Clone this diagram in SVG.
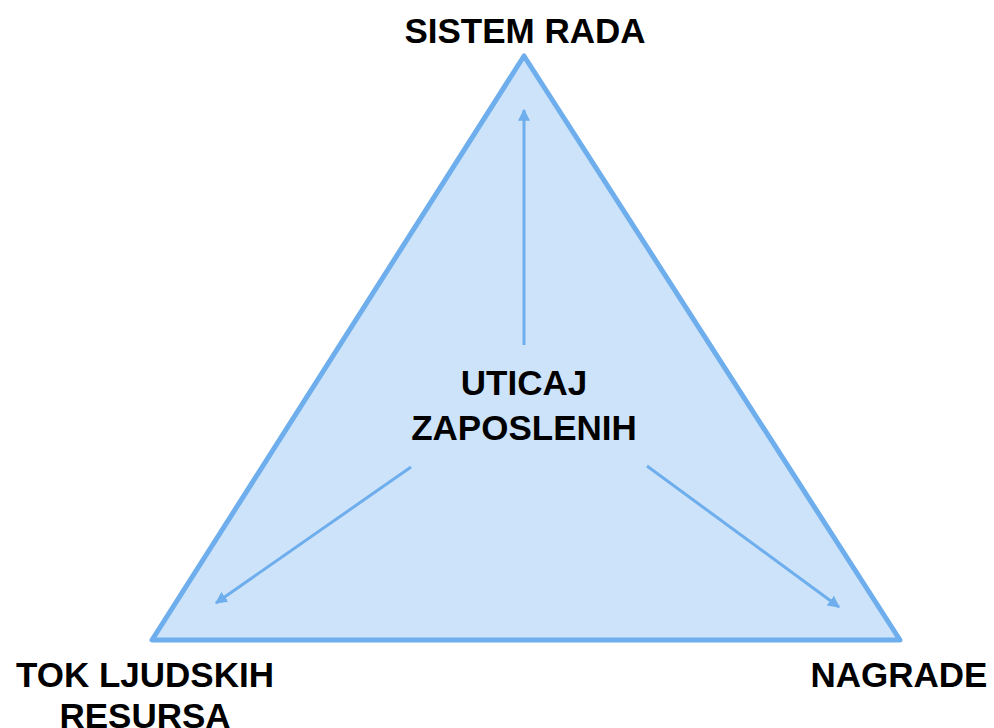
<svg xmlns="http://www.w3.org/2000/svg" width="994" height="728" viewBox="0 0 994 728">
  <style>
    .lbl { font-family: "Liberation Sans", Arial, sans-serif; font-weight: bold; font-size: 35px; fill: #000; text-anchor: middle; }
    .tri { fill: #cde3fa; stroke: #6eaeec; stroke-width: 5; stroke-linejoin: round; }
    .arr { stroke: #6eaeec; stroke-width: 3; fill: none; marker-end: url(#head); }
  </style>
  <defs>
    <marker id="head" viewBox="0 0 10 10" refX="9" refY="5" markerWidth="4" markerHeight="4" orient="auto" markerUnits="strokeWidth">
      <path d="M0,0 L10,5 L0,10 z" fill="#6eaeec"/>
    </marker>
  </defs>
  <rect width="994" height="728" fill="#fff"/>

  <g id="triangle">
    <polygon class="tri" points="524,56 152,640 900,640"/>
  </g>

  <g id="connectors">
    <line class="arr" x1="524" y1="345" x2="524" y2="110"/>
    <line class="arr" x1="411" y1="467" x2="216" y2="603"/>
    <line class="arr" x1="647" y1="466" x2="839" y2="607"/>
  </g>

  <g id="center">
    <text class="lbl" x="524" y="395">UTICAJ</text>
    <text class="lbl" x="524" y="440">ZAPOSLENIH</text>
  </g>
  <g id="top">
    <text class="lbl" x="525" y="43">SISTEM RADA</text>
  </g>
  <g id="left">
    <text class="lbl" x="145" y="687">TOK LJUDSKIH</text>
    <text class="lbl" x="145" y="728">RESURSA</text>
  </g>
  <g id="right">
    <text class="lbl" x="899" y="687">NAGRADE</text>
  </g>
</svg>
